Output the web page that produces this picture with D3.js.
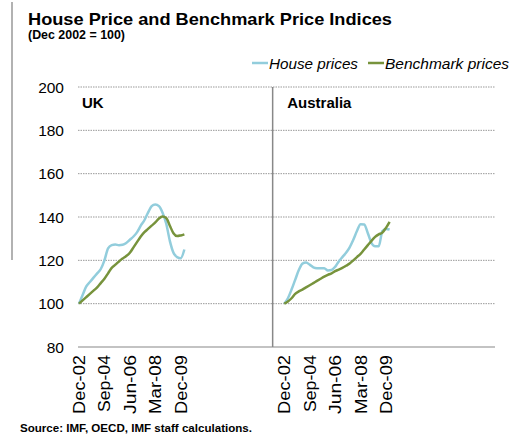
<!DOCTYPE html>
<html>
<head>
<meta charset="utf-8">
<script src="https://cdn.jsdelivr.net/npm/d3@7"></script>
<style>
  body { margin: 0; background: #fff; }
  svg { font-family: "Liberation Sans", Arial, sans-serif; }
</style>
</head>
<body>
<div id="chart"></div>
<script>
// quarterly, Dec-02 .. Mar-10
var quarters = ["Dec-02","Mar-03","Jun-03","Sep-03","Dec-03","Mar-04","Jun-04","Sep-04",
  "Dec-04","Mar-05","Jun-05","Sep-05","Dec-05","Mar-06","Jun-06","Sep-06","Dec-06",
  "Mar-07","Jun-07","Sep-07","Dec-07","Mar-08","Jun-08","Sep-08","Dec-08","Mar-09",
  "Jun-09","Sep-09","Dec-09","Mar-10"];
var tickLabels = ["Dec-02","Sep-04","Jun-06","Mar-08","Dec-09"];
var yTicks = [80, 100, 120, 140, 160, 180, 200];

var ukHouse = [100,104,108,110,112,114,116,120,125.5,127,127.3,127,127.2,128,129.5,131,
  133,136,138.5,142,145,145.8,145,142,137,129,123.5,121.5,121,125];
var ukBench = [100,101.5,103,104.5,106,107.5,109.5,111.5,114,116.5,118,119.5,120.8,122,
  123.5,126,128.5,131,133,134.5,136,137.5,139.3,140.2,139.5,136,132.5,131.2,131.5,132];
var auHouse = [100,102.5,106.5,111,115.5,118.5,119,118,116.8,116.4,116.4,116.4,115.3,115.5,
  117,119.5,121.5,123.5,126,129.5,133.5,136.7,136.5,132.5,128,126.5,126.5,133.5,134.5,134.2];
var auBench = [100,101,102.5,104.5,105.7,106.5,107.5,108.5,109.5,110.5,111.5,112.5,113.3,
  114,115,115.7,116.5,117.5,118.5,120,121.5,123,125,127,129,130.8,132,132.8,135,137.8];

var panels = [
  {name: "UK", start: 0, house: ukHouse, bench: ukBench},
  {name: "Australia", start: 56.5, house: auHouse, bench: auBench}
];

var houseColor = "#92cddc",
    benchColor = "#77933c";

var width = 519, height = 435;

var svg = d3.select("#chart").append("svg")
    .attr("width", width)
    .attr("height", height);

var x = d3.scaleLinear().domain([0, 114.5]).range([79, 495]);
var y = d3.scaleLinear().domain([80, 200]).range([347, 87]);

// decorative rule on the left
svg.append("line")
    .attr("x1", 12).attr("x2", 12).attr("y1", 2).attr("y2", 260)
    .attr("stroke", "#999").attr("stroke-width", 1.5);

svg.append("text")
    .attr("x", 28).attr("y", 25)
    .attr("font-size", 17).attr("font-weight", "bold")
    .attr("textLength", 364).attr("lengthAdjust", "spacingAndGlyphs")
    .text("House Price and Benchmark Price Indices");

svg.append("text")
    .attr("x", 28).attr("y", 39)
    .attr("font-size", 12.5).attr("font-weight", "bold")
    .attr("textLength", 97).attr("lengthAdjust", "spacingAndGlyphs")
    .text("(Dec 2002 = 100)");

// legend
var legend = [{label: "House prices", color: houseColor, x: 252, len: 89},
              {label: "Benchmark prices", color: benchColor, x: 368, len: 124}];
legend.forEach(function(l) {
  svg.append("line")
      .attr("x1", l.x).attr("x2", l.x + 16).attr("y1", 63).attr("y2", 63)
      .attr("stroke", l.color).attr("stroke-width", 2.5);
  svg.append("text")
      .attr("x", l.x + 17).attr("y", 69)
      .attr("font-size", 15).attr("font-style", "italic")
      .attr("textLength", l.len).attr("lengthAdjust", "spacingAndGlyphs")
      .text(l.label);
});

// gridlines
svg.append("g").selectAll("line")
    .data(yTicks.filter(function(d) { return d > 80; }))
  .enter().append("line")
    .attr("x1", 78).attr("x2", 495)
    .attr("y1", function(d) { return y(d); })
    .attr("y2", function(d) { return y(d); })
    .attr("stroke", "#999").attr("stroke-width", 1)
    .attr("stroke-dasharray", "1.5,1");

// y axis labels
svg.append("g").selectAll("text")
    .data(yTicks)
  .enter().append("text")
    .attr("x", 64)
    .attr("y", function(d) { return y(d) + 5.5; })
    .attr("text-anchor", "end")
    .attr("font-size", 15.5)
    .text(function(d) { return d; });

// x axis and divider
svg.append("line")
    .attr("x1", 78).attr("x2", 495).attr("y1", y(80)).attr("y2", y(80))
    .attr("stroke", "#888").attr("stroke-width", 1.2);
svg.append("line")
    .attr("x1", x(53.3)).attr("x2", x(53.3)).attr("y1", y(200)).attr("y2", y(80))
    .attr("stroke", "#888").attr("stroke-width", 1.5);

var line = d3.line()
    .x(function(d) { return x(d.i); })
    .y(function(d) { return y(d.v); })
    .curve(d3.curveMonotoneX);

panels.forEach(function(p) {
  var g = svg.append("g");

  g.append("text")
      .attr("x", x(p.start) + 3).attr("y", 108)
      .attr("font-size", 15).attr("font-weight", "bold")
      .text(p.name);

  [[p.house, houseColor], [p.bench, benchColor]].forEach(function(s) {
    g.append("path")
        .datum(s[0].map(function(v, i) { return {i: p.start + i, v: v}; }))
        .attr("d", line)
        .attr("fill", "none")
        .attr("stroke", s[1])
        .attr("stroke-width", 2.5)
        .attr("stroke-linejoin", "round");
  });

  g.selectAll(".tick")
      .data(tickLabels)
    .enter().append("text")
      .attr("transform", function(d) {
        var tx = x(p.start + quarters.indexOf(d)) + 6;
        return "translate(" + tx + ",355)rotate(-90)";
      })
      .attr("text-anchor", "end")
      .attr("font-size", 16)
      .attr("textLength", function(d) { return d.indexOf("Sep") === 0 ? 57 : 59; })
      .attr("lengthAdjust", "spacingAndGlyphs")
      .text(function(d) { return d; });
});

svg.append("text")
    .attr("x", 20).attr("y", 432)
    .attr("font-size", 11).attr("font-weight", "bold")
    .attr("textLength", 232).attr("lengthAdjust", "spacingAndGlyphs")
    .text("Source: IMF, OECD, IMF staff calculations.");
</script>
</body>
</html>
